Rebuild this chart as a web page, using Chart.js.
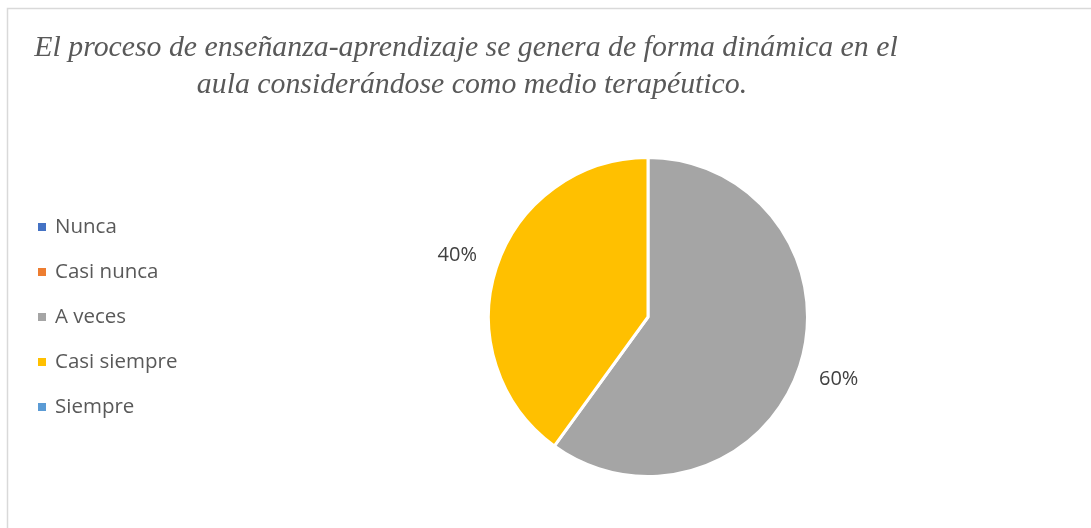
<!DOCTYPE html>
<html>
<head>
<meta charset="utf-8">
<script src="https://cdn.jsdelivr.net/npm/chart.js@4"></script>
<style>
  body { margin: 0; background: #fff; }
  #wrap { position: relative; width: 1091px; height: 528px; }
</style>
</head>
<body>
<div id="wrap"><canvas id="grafico" width="1091" height="528"></canvas></div>
<script>
// datos del grafico
const categorias = ['Nunca', 'Casi nunca', 'A veces', 'Casi siempre', 'Siempre'];
const porcentajes = [0, 0, 60, 40, 0];
const colores = ['#4472C4', '#ED7D31', '#A5A5A5', '#FFC000', '#5B9BD5'];
const tituloLineas = [
    'El proceso de enseñanza-aprendizaje se genera de forma dinámica en el',
    'aula considerándose como medio terapéutico.'
];

const textoGris = '#595959';

// marco, titulo y leyenda
const decoracion = {
    id: 'decoracion',
    beforeDraw(chart) {
        const ctx = chart.ctx;
        ctx.save();
        ctx.strokeStyle = '#d9d9d9';
        ctx.lineWidth = 1.5;
        ctx.beginPath();
        ctx.moveTo(7.5, 528);
        ctx.lineTo(7.5, 8.5);
        ctx.lineTo(1091, 8.5);
        ctx.stroke();
        ctx.restore();
    },
    afterDraw(chart) {
        const ctx = chart.ctx;
        ctx.save();
        ctx.fillStyle = textoGris;
        ctx.textAlign = 'center';
        ctx.textBaseline = 'alphabetic';
        ctx.font = 'italic 29.8px "Liberation Serif", "Times New Roman", serif';
        ctx.fillText(tituloLineas[0], 466, 56);
        ctx.fillText(tituloLineas[1], 472, 93);

        // leyenda
        ctx.font = '20.5px "Open Sans", sans-serif';
        ctx.textAlign = 'left';
        ctx.textBaseline = 'middle';
        categorias.forEach((c, i) => {
            const y = 227 + i * 45;
            ctx.fillStyle = colores[i];
            ctx.fillRect(38, y - 4, 8, 8);
            ctx.fillStyle = textoGris;
            ctx.fillText(c, 55, y);
        });

        // etiquetas de porcentaje
        const meta = chart.getDatasetMeta(0);
        ctx.font = '20px "Open Sans", sans-serif';
        ctx.fillStyle = '#404040';
        ctx.textAlign = 'center';
        meta.data.forEach((arc, i) => {
            if (!porcentajes[i]) return;
            const p = arc.getProps(['x', 'y', 'startAngle', 'endAngle', 'outerRadius'], true);
            const a = (p.startAngle + p.endAngle) / 2;
            const r = p.outerRadius + 41;
            ctx.fillText(porcentajes[i] + '%', p.x + Math.cos(a) * r, p.y + Math.sin(a) * r);
        });
        ctx.restore();
    }
};

new Chart(document.getElementById('grafico'), {
    type: 'pie',
    data: {
        labels: categorias,
        datasets: [{
            data: porcentajes,
            backgroundColor: colores,
            borderColor: '#ffffff',
            borderWidth: 3
        }]
    },
    options: {
        responsive: false,
        animation: false,
        layout: { padding: { left: 487, right: 282, top: 156, bottom: 50 } },
        plugins: {
            legend: { display: false },
            tooltip: { enabled: false }
        }
    },
    plugins: [decoracion]
});
</script>
</body>
</html>
